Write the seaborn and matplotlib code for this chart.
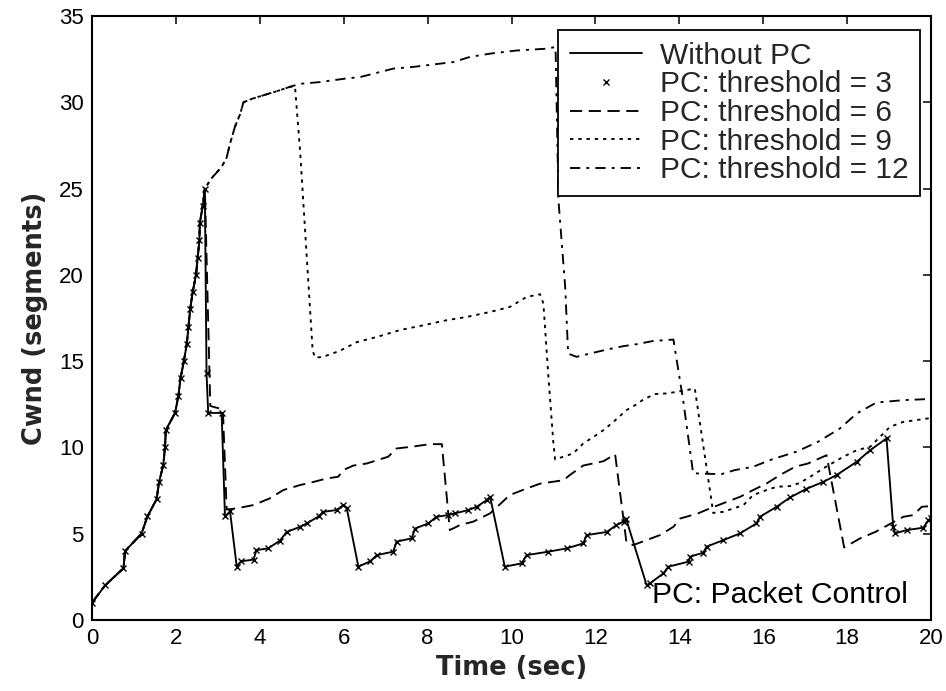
import matplotlib
matplotlib.use("Agg")
import matplotlib.pyplot as plt
import seaborn as sns

# ---------------- data ----------------
# shared slow-start phase
ss_x = [0, 0.31, 0.75, 0.79, 1.18, 1.32, 1.54, 1.60, 1.70, 1.74, 1.76, 1.98, 2.06,
        2.11, 2.19, 2.26, 2.30, 2.34, 2.40, 2.48, 2.52, 2.56, 2.57, 2.64, 2.69]
ss_y = [1, 2, 3, 4, 5, 6, 7, 8, 9, 10, 11, 12, 13, 14, 15, 16, 17, 18, 19, 20,
        21, 22, 23, 24, 25]

# Without PC
wo_x = ss_x + [2.73, 2.77, 3.09, 3.17, 3.29, 3.45, 3.55, 3.85, 3.92, 4.20,
               4.48, 4.64, 4.96, 5.12, 5.40, 5.51, 5.83, 5.99, 6.07, 6.35,
               6.63, 6.79, 7.18, 7.26, 7.62, 7.70, 8.02, 8.21, 8.49, 8.65,
               8.97, 9.17, 9.41, 9.49, 9.84, 10.24, 10.36, 10.88, 11.32, 11.71,
               11.79, 12.27, 12.50, 12.67, 12.73, 13.22, 13.30, 13.62, 13.74, 14.22,
               14.26, 14.57, 14.65, 15.05, 15.45, 15.84, 15.92, 16.32, 16.64, 17.03,
               17.43, 17.75, 18.23, 18.55, 18.94, 19.10, 19.14, 19.42, 19.82, 19.94,
               20.0]
wo_y = ss_y + [14.3, 12.0, 12.0, 6.0, 6.3, 3.1, 3.4, 3.5, 4.05, 4.15,
               4.6, 5.1, 5.4, 5.6, 6.0, 6.27, 6.37, 6.66, 6.5, 3.09,
               3.4, 3.76, 3.96, 4.54, 4.73, 5.3, 5.6, 5.98, 6.08, 6.18,
               6.37, 6.56, 6.95, 7.14, 3.09, 3.28, 3.76, 3.96, 4.15, 4.44,
               4.92, 5.1, 5.5, 5.7, 5.88, 2.03, 2.12, 2.7, 3.09, 3.38,
               3.67, 3.9, 4.25, 4.63, 5.02, 5.6, 5.98, 6.56, 7.1, 7.6,
               8.0, 8.4, 9.17, 9.84, 10.52, 5.4, 5.02, 5.21, 5.35, 5.79,
               5.9]

# PC: threshold = 3 (coincides with Without PC)
t3_x = list(wo_x)
t3_y = list(wo_y)

# PC: threshold = 6
t6_x = ss_x + [2.82, 3.12, 3.21, 3.45, 3.85, 4.24, 4.56, 4.96, 5.28, 5.59,
               5.87, 5.99, 6.23, 6.55, 7.06, 7.26, 7.62, 8.06, 8.34, 8.53,
               8.77, 9.09, 9.49, 9.96, 10.36, 10.68, 11.24, 11.39, 11.71, 12.19,
               12.47, 12.74, 12.90, 13.54, 13.86, 14.02, 14.45, 14.73, 15.45, 15.76,
               16.08, 16.40, 16.76, 17.07, 17.51, 17.93, 18.31, 18.67, 19.34, 19.58,
               19.78, 20.0]
t6_y = ss_y + [12.4, 12.2, 6.4, 6.47, 6.66, 7.05, 7.53, 7.82, 8.0, 8.2,
               8.3, 8.69, 8.95, 9.07, 9.46, 9.94, 10.04, 10.19, 10.19, 5.21,
               5.5, 5.7, 6.18, 7.24, 7.62, 7.9, 8.1, 8.4, 8.95, 9.2,
               9.6, 4.5, 4.34, 4.92, 5.4, 5.88, 6.18, 6.47, 7.14, 7.53,
               7.91, 8.4, 8.88, 9.07, 9.55, 4.2, 4.73, 5.1, 5.98, 6.08,
               6.56, 6.6]

# shared rise of threshold 9 and 12 after slow start
up_x = [2.85, 3.09, 3.21, 3.29, 3.41, 3.53, 3.61, 3.81, 4.16, 4.48, 4.72]
up_y = [25.6, 26.25, 26.8, 27.6, 28.6, 29.3, 30.0, 30.2, 30.46, 30.7, 30.9]

# PC: threshold = 9
t9_x = ss_x + up_x + [4.84, 4.96, 5.18, 5.26, 5.32, 5.51, 5.91, 6.31, 6.79, 7.34,
                      7.90, 8.45, 8.93, 9.49, 9.96, 10.36, 10.68, 10.76, 10.88, 11.00,
                      11.04, 11.23, 11.47, 11.71, 11.95, 12.19, 12.43, 12.74, 13.02, 13.14,
                      13.42, 13.70, 13.94, 14.37, 14.81, 15.05, 15.53, 15.76, 16.08, 16.32,
                      16.64, 16.88, 17.12, 17.43, 17.91, 18.23, 18.55, 19.02, 19.34, 19.90,
                      20.0]
t9_y = ss_y + up_y + [30.9, 27.2, 18.7, 15.6, 15.2, 15.25, 15.6, 16.1, 16.4, 16.8,
                      17.08, 17.37, 17.56, 17.85, 18.14, 18.72, 18.88, 18.34, 14.1, 10.2,
                      9.3, 9.46, 9.65, 10.23, 10.6, 11.0, 11.48, 12.16, 12.55, 12.78,
                      13.09, 13.13, 13.22, 13.41, 6.2, 6.27, 6.66, 7.24, 7.53, 7.72,
                      7.76, 7.95, 8.3, 8.78, 9.46, 9.84, 10.04, 11.19, 11.48, 11.67,
                      11.7]

# PC: threshold = 12
t12_x = ss_x + up_x + [4.96, 5.43, 6.03, 6.39, 7.18, 7.66, 8.30, 8.61, 9.01, 9.49,
                       10.12, 10.80, 11.05, 11.12, 11.28, 11.35, 11.55, 11.87, 12.27, 12.67,
                       12.98, 13.38, 13.86, 14.10, 14.33, 15.00, 15.33, 15.76, 16.20, 16.79,
                       17.31, 17.83, 18.23, 18.70, 19.34, 19.90]
t12_y = ss_y + up_y + [31.07, 31.17, 31.37, 31.46, 31.95, 32.05, 32.24, 32.33, 32.63, 32.82,
                       33.0, 33.1, 33.2, 24.3, 19.3, 15.44, 15.25, 15.44, 15.67, 15.87,
                       15.98, 16.17, 16.25, 12.6, 8.5, 8.45, 8.69, 8.88, 9.3, 9.75,
                       10.33, 11.1, 11.97, 12.6, 12.74, 12.8]

labels = ["Without PC", "PC: threshold = 3", "PC: threshold = 6",
          "PC: threshold = 9", "PC: threshold = 12"]
x_ticks = list(range(0, 21, 2))
y_ticks = list(range(0, 36, 5))

# ---------------- figure ----------------
sns.set_style("white")
plt.rcParams["font.family"] = ["Liberation Sans", "DejaVu Sans"]

fig = plt.figure(figsize=(9.46, 6.91), dpi=100)
ax = fig.add_axes([92 / 946, 71 / 691, 839 / 946, 604 / 691])

lw = 1.35
sns.lineplot(x=wo_x, y=wo_y, sort=False, estimator=None, color="k", lw=lw,
             label=labels[0], ax=ax)
sns.lineplot(x=t3_x, y=t3_y, sort=False, estimator=None, color="k",
             linestyle="none", marker="x", markersize=4.5,
             markeredgewidth=1.0, markeredgecolor="k",
             label=labels[1], ax=ax)
sns.lineplot(x=t6_x, y=t6_y, sort=False, estimator=None, color="k", lw=lw,
             label=labels[2], ax=ax)
ax.lines[-1].set_dashes((6.5, 3.5))
sns.lineplot(x=t9_x, y=t9_y, sort=False, estimator=None, color="k", lw=lw,
             label=labels[3], ax=ax)
ax.lines[-1].set_dashes((1.8, 2.6))
sns.lineplot(x=t12_x, y=t12_y, sort=False, estimator=None, color="k", lw=lw,
             label=labels[4], ax=ax)
ax.lines[-1].set_dashes((5.5, 3.2, 1.6, 3.2))

ax.set_xlim(0, 20)
ax.set_ylim(0, 35)
ax.set_xticks(x_ticks)
ax.set_yticks(y_ticks)
ax.tick_params(direction="in", length=6, width=1.1, top=True, right=True,
               labelsize=16, pad=6, colors="k")
for s in ax.spines.values():
    s.set_color("k")
    s.set_linewidth(1.5)

ax.set_xlabel("Time (sec)", fontsize=18.5, fontweight="bold",
              family="DejaVu Sans", labelpad=4)
ax.set_ylabel("Cwnd (segments)", fontsize=18.5, fontweight="bold",
              family="DejaVu Sans", labelpad=8)

leg = ax.legend(loc="upper right", bbox_to_anchor=(0.987, 0.977),
                borderaxespad=0, fontsize=21.5, frameon=True, fancybox=False,
                framealpha=1, edgecolor="k", handlelength=2.4,
                handletextpad=0.6, labelspacing=0.02, borderpad=0.4)
leg.get_frame().set_linewidth(1.3)

ax.text(13.34, 0.97, "PC: Packet Control", fontsize=21.7, ha="left",
        va="baseline", color="k")

fig.savefig("out.png", dpi=100, facecolor="white")
